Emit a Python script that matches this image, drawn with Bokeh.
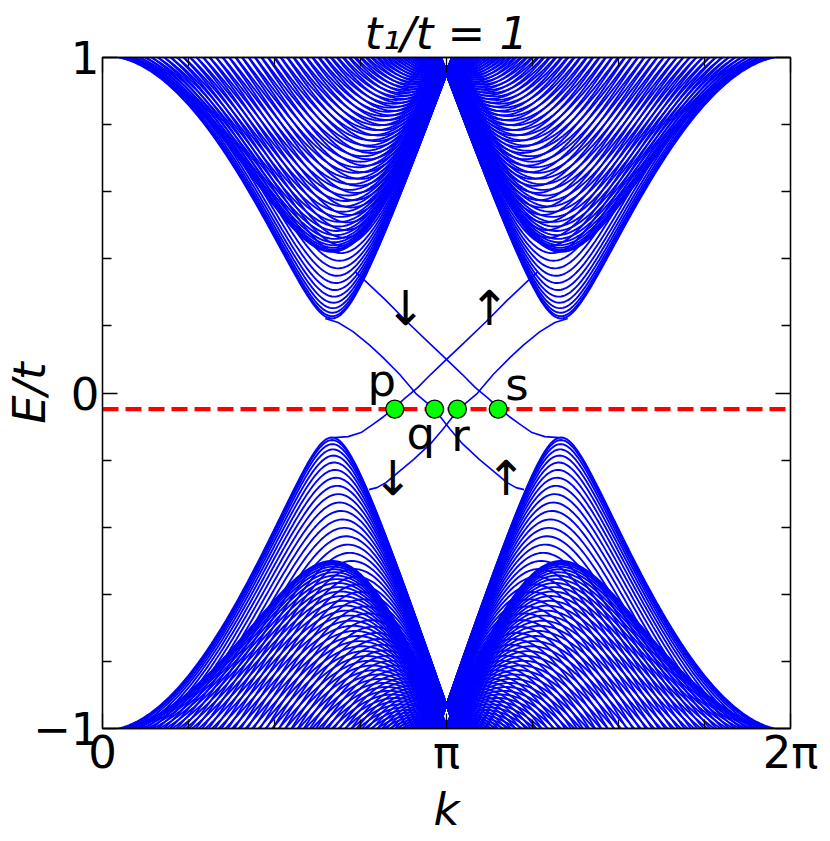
import numpy as np
from bokeh.plotting import figure
from bokeh.models import Range1d, FixedTicker, LinearAxis
from bokeh.core.properties import value
from bokeh.embed import file_html
from bokeh.resources import INLINE

# ---------------- values ----------------
PI = np.pi
title_text = "t₁/t = 1"
x_label = "k"
y_label = "E/t"
x_major_ticks = [0.0, PI, 2 * PI]
x_major_labels = ["0", "π", "2π"]
x_minor_ticks = [0.25 * PI, 0.5 * PI, 0.75 * PI, 1.25 * PI, 1.5 * PI, 1.75 * PI]
y_major_ticks = [-1.0, 0.0, 1.0]
y_major_labels = ["−1", "0", "1"]
y_minor_ticks = [-0.8, -0.6, -0.4, -0.2, 0.2, 0.4, 0.6, 0.8]

fermi_level = -0.048

# bulk sub-band families: band edges at the valleys, energies at k = 0 and k = pi
conduction_edge = [0.22, 0.42]
valence_edge = [-0.13, -0.50]
conduction_at_k0 = [1.005, 1.005]
conduction_at_pi = [0.95, 0.96]
valence_at_k0 = [-1.005, -1.005]
valence_at_pi = [-0.93, -0.99]
modes_per_family = 100

# edge states (the chart is mirror-symmetric about k = pi)
edge1_k = [2.306, 2.397, 2.588, 2.769, 2.987, 3.132, 3.287, 3.405, 3.523, 3.623, 3.714, 3.804, 3.922, 4.040, 4.168]
edge1_E = [0.362, 0.335, 0.276, 0.216, 0.148, 0.103, 0.055, 0.016, -0.016, -0.046, -0.070, -0.091, -0.118, -0.130, -0.133]
edge2_k = [2.034, 2.152, 2.288, 2.442, 2.560, 2.715, 2.860, 3.033, 3.169, 3.287, 3.441, 3.586, 3.695, 3.777, 3.850]
edge2_E = [0.222, 0.210, 0.183, 0.142, 0.106, 0.055, -0.001, -0.049, -0.106, -0.151, -0.198, -0.237, -0.267, -0.282, -0.288]

# crossing points with the Fermi level
crossing_k = [2.669, 3.033, 3.241, 3.614]
crossing_names = ["p", "q", "r", "s"]
name_k = [2.551, 2.906, 3.269, 3.786]
name_E = [0.037, -0.121, -0.126, 0.026]

spin_arrows = ["↓", "↑", "↓", "↑"]
arrow_k = [2.769, 3.532, 2.651, 3.686]
arrow_E = [0.252, 0.252, -0.252, -0.252]

# ---------------- bulk bands ----------------
k = np.linspace(0, 2 * PI, 361)
c = np.cos(k / 2)
bulk_xs, bulk_ys = [], []
for cb, vb, c0, cpi, v0, vpi in zip(conduction_edge, valence_edge, conduction_at_k0,
                                    conduction_at_pi, valence_at_k0, valence_at_pi):
    off = (cb + vb) / 2
    m = (cb - vb) / 2
    gu0, gupi = (c0 - off) ** 2 - m ** 2, (cpi - off) ** 2 - m ** 2
    gd0, gdpi = (off - v0) ** 2 - m ** 2, (off - vpi) ** 2 - m ** 2
    gu = gupi + (gu0 - gupi) * c ** 2
    gd = gdpi + (gd0 - gdpi) * c ** 2
    for j in range(1, modes_per_family + 1):
        q = PI * j / (modes_per_family + 1)
        eps2 = 1 + 4 * c ** 2 + 4 * c * np.cos(q)
        bulk_xs.append(k)
        bulk_ys.append(off + np.sqrt(m ** 2 + gu * eps2))
        bulk_xs.append(k)
        bulk_ys.append(off - np.sqrt(m ** 2 + gd * eps2))

# ---------------- figure ----------------
FONT = "DejaVu Sans"
p = figure(width=830, height=841, x_range=Range1d(0, 2 * PI), y_range=Range1d(-1, 1),
           output_backend="svg", toolbar_location=None,
           min_border_left=98, min_border_right=40, min_border_top=57, min_border_bottom=113)
p.grid.visible = False
p.outline_line_color = "black"
p.outline_line_width = 1.3
p.background_fill_color = "white"
p.border_fill_color = "white"

p.title.text = title_text
p.title.text_font = FONT
p.title.text_font_size = "45px"
p.title.text_font_style = "italic"
p.title.text_color = "black"
p.title.align = "center"
p.title.standoff = -4

xt = FixedTicker(ticks=x_major_ticks, minor_ticks=x_minor_ticks)
yt = FixedTicker(ticks=y_major_ticks, minor_ticks=y_minor_ticks)

p.add_layout(LinearAxis(), "right")
p.add_layout(LinearAxis(), "above")

for ax in p.xaxis:
    ax.ticker = xt
for ax in p.yaxis:
    ax.ticker = yt

for ax in list(p.xaxis) + list(p.yaxis):
    ax.major_tick_in = 15
    ax.major_tick_out = 0
    ax.minor_tick_in = 9
    ax.minor_tick_out = 0
    ax.axis_line_color = "black"
    ax.axis_line_width = 1.3
    ax.major_tick_line_color = "black"
    ax.minor_tick_line_color = "black"
    ax.major_tick_line_width = 1.3
    ax.minor_tick_line_width = 1.3
    ax.major_label_text_font = FONT
    ax.major_label_text_font_size = "45px"
    ax.major_label_text_color = "black"

bottom, left = p.below[0], p.left[0]
bottom.major_label_overrides = dict(zip(x_major_ticks, x_major_labels))
bottom.major_label_standoff = -3
bottom.axis_label = x_label
bottom.axis_label_text_font = FONT
bottom.axis_label_text_font_size = "45px"
bottom.axis_label_text_font_style = "italic"
bottom.axis_label_text_color = "black"
bottom.axis_label_standoff = 1

left.major_label_overrides = dict(zip(y_major_ticks, y_major_labels))
left.major_label_standoff = 3
left.axis_label = y_label
left.axis_label_text_font = FONT
left.axis_label_text_font_size = "45px"
left.axis_label_text_font_style = "italic"
left.axis_label_text_color = "black"
left.axis_label_standoff = -26

p.right[0].major_label_overrides = {t: "" for t in y_major_ticks}
p.right[0].major_label_text_font_size = "1px"
p.above[0].major_label_overrides = {t: "" for t in x_major_ticks}
p.above[0].major_label_text_font_size = "1px"

# bulk and edge states
p.multi_line(bulk_xs, bulk_ys, line_color="#0000ff", line_width=1.9)
edge_xs = [edge1_k, edge2_k, [2 * PI - v for v in edge1_k], [2 * PI - v for v in edge2_k]]
edge_ys = [edge1_E, edge2_E, edge1_E, edge2_E]
p.multi_line(edge_xs, edge_ys, line_color="#0000ff", line_width=1.6)

# Fermi level
p.line([0, 2 * PI], [fermi_level, fermi_level], line_color="#ff0000", line_width=4.3, line_dash="16 7")

# crossing points
p.scatter(crossing_k, [fermi_level] * 4, size=18, fill_color="#00ff00", line_color="black", line_width=1.3)
p.text(name_k, name_E, text=crossing_names, text_font_size="45px", text_color="black",
       text_align="center", text_baseline="alphabetic", text_font=value(FONT))
p.text(arrow_k, arrow_E, text=spin_arrows, text_font_size="48px", text_color="black",
       text_align="center", text_baseline="middle", text_font=value(FONT))

open("out.html", "w").write(file_html(p, INLINE))
